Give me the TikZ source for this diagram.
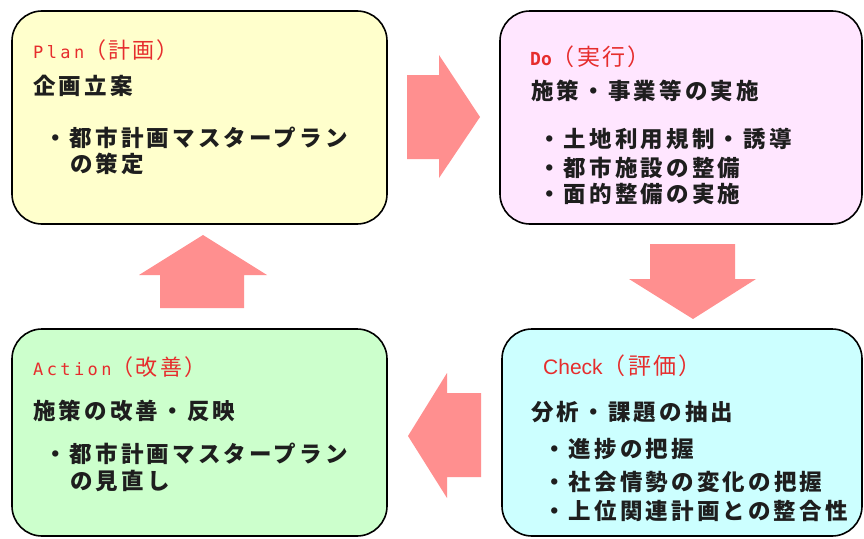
\documentclass[tikz,border=0pt]{standalone}
\usepackage{fontspec}
\newfontfamily\jp{Noto Sans CJK JP}[LetterSpace=14]
\newfontfamily\jpt{Noto Sans CJK JP}[LetterSpace=10]
\newfontfamily\monot{DejaVu Sans Mono}[LetterSpace=20]
\newfontfamily\monob{DejaVu Sans Mono}
\newfontfamily\sanst{Liberation Sans}
\definecolor{arrowpink}{RGB}{255,143,143}
\definecolor{planfill}{RGB}{255,255,204}
\definecolor{dofill}{RGB}{255,230,255}
\definecolor{checkfill}{RGB}{204,255,255}
\definecolor{actfill}{RGB}{204,255,204}
\definecolor{titlered}{RGB}{230,45,45}
\definecolor{bodytext}{RGB}{30,30,30}
\begin{document}
\begin{tikzpicture}[x=1pt,y=-1pt,
  phasebox/.style={draw=black,line width=1.6pt,rounded corners=30pt},
  titletext/.style={anchor=base west,inner sep=0pt,text=titlered,font=\jpt\fontsize{22}{24}\selectfont},
  bigtitle/.style={titletext,font=\jpt\fontsize{23}{26}\selectfont},
  bodyline/.style={anchor=base west,inner sep=0pt,text=bodytext,font=\jp\bfseries\fontsize{22.5}{26}\selectfont},
  blockarrow/.style={fill=arrowpink,draw=none}]
\useasboundingbox (0,0) rectangle (864,538);
\fill[white] (0,0) rectangle (864,538);
% boxes
\draw[phasebox,fill=planfill] (12,11) rectangle (387,224);
\draw[phasebox,fill=dofill] (500,11) rectangle (862,224);
\draw[phasebox,fill=checkfill] (502,329) rectangle (862,536);
\draw[phasebox,fill=actfill] (12,329) rectangle (387,536);
% block arrows
\fill[blockarrow] (407,75) -- (439,75) -- (439,55) -- (480,117) -- (439,178) -- (439,159) -- (407,159) -- cycle;
\fill[blockarrow] (650,244) -- (735,244) -- (735,279) -- (756,279) -- (693,319) -- (629,279) -- (650,279) -- cycle;
\fill[blockarrow] (481,393) -- (447,393) -- (447,373) -- (408,436) -- (447,498) -- (447,477) -- (481,477) -- cycle;
\fill[blockarrow] (160,308) -- (160,275) -- (139,275) -- (203,235) -- (267,275) -- (244,275) -- (244,308) -- cycle;
% Plan
\node[titletext] (plantitle) at (33,58) {{\monot\fontsize{17}{20}\selectfont Plan}（計画）};
\node[bodyline] (planhead) at (33,94) {企画立案};
\node[bodyline] (planb1) at (44,146) {・都市計画マスタープラン};
\node[bodyline] (planb2) at (70,172) {の策定};
% Do
\node[bigtitle] (dotitle) at (530,65) {{\monob\bfseries\fontsize{18}{22}\selectfont Do}（実行）};
\node[bodyline] (dohead) at (531,99) {施策・事業等の実施};
\node[bodyline] (dob1) at (538,147) {・土地利用規制・誘導};
\node[bodyline] (dob2) at (538,176) {・都市施設の整備};
\node[bodyline] (dob3) at (538,202) {・面的整備の実施};
% Check
\node[bigtitle] (checktitle) at (543,374) {{\sanst\fontsize{21}{24}\selectfont Check}（評価）};
\node[bodyline] (checkhead) at (531,420) {分析・課題の抽出};
\node[bodyline] (checkb1) at (543,457) {・進捗の把握};
\node[bodyline] (checkb2) at (543,490) {・社会情勢の変化の把握};
\node[bodyline] (checkb3) at (543,519) {・上位関連計画との整合性};
% Action
\node[titletext] (acttitle) at (33,375) {{\monot\fontsize{17}{20}\selectfont Action}（改善）};
\node[bodyline] (acthead) at (33,419) {施策の改善・反映};
\node[bodyline] (actb1) at (44,462) {・都市計画マスタープラン};
\node[bodyline] (actb2) at (70,489) {の見直し};
\end{tikzpicture}
\end{document}
